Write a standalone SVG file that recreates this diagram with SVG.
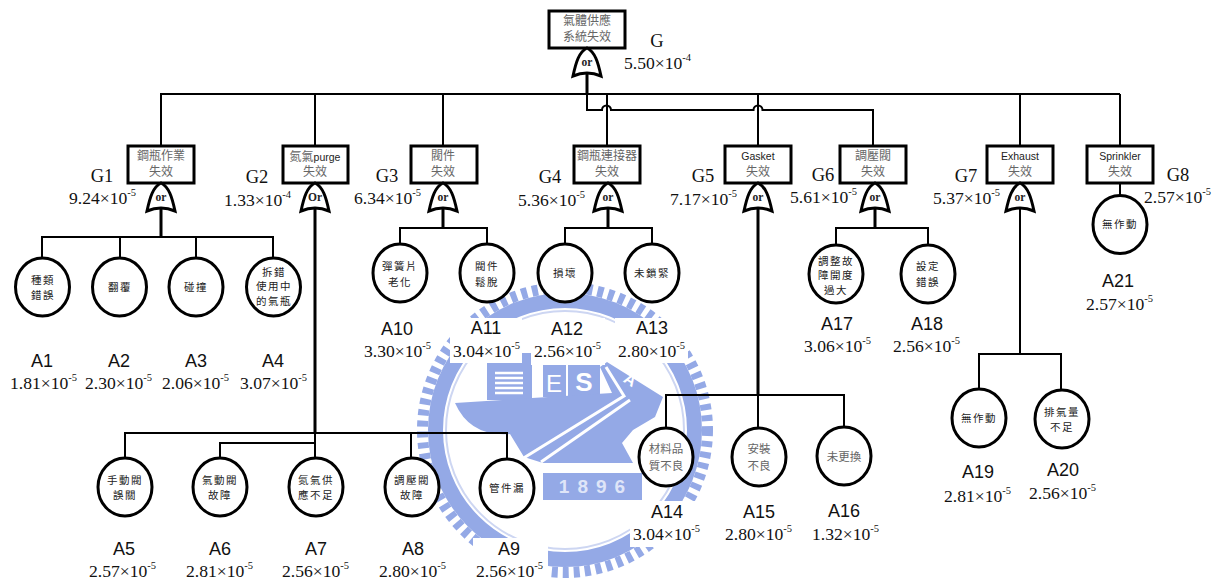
<svg xmlns="http://www.w3.org/2000/svg" width="1225" height="583" viewBox="0 0 1225 583">
<style>
text{white-space:pre}
.l{font:18px "Liberation Sans",Arial,sans-serif;fill:#111;text-anchor:middle}
.g{font:18.5px "Liberation Serif","Times New Roman",serif;fill:#111;text-anchor:middle}
.v{font:17.6px "Liberation Serif","Times New Roman",serif;fill:#111}
.s{font-size:10.5px}
.b{fill:#fff;stroke:#000;stroke-width:3}
.c{fill:#fff;stroke:#000;stroke-width:3}
.t{font:12px "Noto Sans CJK TC","Noto Sans CJK SC",sans-serif;fill:#666;text-anchor:middle}
.lat{font:10.5px "Liberation Sans",Arial,"Noto Sans CJK TC",sans-serif;fill:#222;text-anchor:middle}
.k{font:10.5px "Noto Sans CJK TC","Noto Sans CJK SC",sans-serif;fill:#222;text-anchor:middle;letter-spacing:1.5px}
.k2{font:11.5px "Noto Sans CJK TC","Noto Sans CJK SC",sans-serif;fill:#666;text-anchor:middle}
.o{font:bold 11.5px "Liberation Serif","Times New Roman",serif;fill:#222;text-anchor:middle}
.w{fill:none;stroke:#000;stroke-width:2}
.w3{fill:none;stroke:#000;stroke-width:3}
.m{fill:#94a9e6}
</style>
<defs>
<path id="gate" d="M0 0C8 4 11 14 14 28Q0 22 -14 28C-11 14 -8 4 0 0Z" fill="#fff" stroke="#000" stroke-width="3" stroke-linejoin="miter"/>
<ellipse id="leaf" rx="27" ry="29" class="c"/>
</defs>
<rect width="1225" height="583" fill="#fff"/>
<g id="watermark">
<circle cx="565" cy="430" r="142.500" fill="none" stroke="#94a9e6" stroke-width="11" stroke-dasharray="6 5"/>
<circle cx="565" cy="430" r="129.500" fill="none" stroke="#94a9e6" stroke-width="15"/>
<circle cx="565" cy="430" r="119" fill="none" stroke="#cdd6f2" stroke-width="2"/>
<path class="m" d="M487 353H532V400H487Z"/>
<path class="m" d="M543 363H566V397H543Z"/>
<path class="m" d="M568 363H600V397H568Z"/>
<path class="m" d="M455 403L612 393L600 367L607 362L663 397L655 417L633 430L622 443L633 463H543L524 457L510 434Q470 437 455 403Z"/>
<path d="M495 373H523M495 378H523M495 383H523M495 388H523M495 393H523" stroke="#fff" stroke-width="2.500" fill="none"/>
<path d="M538 368V398" stroke="#fff" stroke-width="2" stroke-dasharray="2 3" fill="none"/>
<path d="M606 367L624 396L522 459M630 400L541 462" stroke="#fff" stroke-width="3" fill="none"/>
<text x="554" y="392" font-family="Liberation Sans,sans-serif" font-size="24" fill="#fff" text-anchor="middle">E</text>
<text x="584" y="391" font-family="Liberation Sans,sans-serif" font-weight="bold" font-size="26" fill="#fff" text-anchor="middle">S</text>
<text x="630" y="385" transform="rotate(32 630 380)" font-family="Liberation Sans,sans-serif" font-weight="bold" font-size="16" fill="#fff" text-anchor="middle">A</text>
<rect class="m" x="543" y="473" width="99" height="27"/>
<text x="596" y="493" font-family="Liberation Sans,sans-serif" font-weight="bold" font-size="19" letter-spacing="8" fill="#dfe5f8" text-anchor="middle">1896</text>
<g fill="#fff">
<rect x="450" y="318" width="72" height="45"/>
<rect x="531" y="318" width="74" height="47"/>
<rect x="615" y="318" width="73" height="45"/>
<rect x="630" y="501" width="72" height="46"/>
<rect x="473" y="538" width="75" height="45"/>
</g>
</g>
<g id="connectors">
<path class="w" d="M160 94H1120M161 94V146M315 94V146M443 94V146M607 94V146M758 94V146M1020 94V146M1120 94V146"/>
<path class="w" d="M587 94V110H602a4.500 4.500 0 0 1 9 0H753.500a4.500 4.500 0 0 1 9 0H873V146"/>
<path class="w3" d="M587 74V94"/>
<path class="w3" d="M161 207V237M443 207V228M608 207V228M875 207V228"/>
<path class="w3" d="M315 207V433M758 207V395"/>
<path class="w" d="M1020 207V354"/>
<path class="w" d="M42 258V237H273V258M120 237V258M196 237V258"/>
<path class="w" d="M400 244V228H487V244M565 244V228H652V244M836 245V228H928V245"/>
<path class="w" d="M125 458V433H507V459M315 433V458M411 433V458M315 443H220V458"/>
<path class="w" d="M666 428V395H844V427M758 395V428"/>
<path class="w" d="M979 389V354H1061V390"/>
<path class="w" d="M1120 183V196"/>
</g>
<g id="G"><rect class="b" x="549" y="11" width="76" height="37"/><text class="t" x="587" y="25">氣體供應</text><text class="t" x="587" y="41">系統失效</text><use href="#gate" x="587" y="48"/><text class="o" x="587" y="66">or</text><text class="g" x="657" y="47">G</text><text class="v" x="624" y="69">5.50×10<tspan class="s" dy="-8">-4</tspan></text></g>
<g id="G1"><rect class="b" x="128" y="146" width="66" height="37"/><text class="t" x="161" y="160">鋼瓶作業</text><text class="t" x="161" y="176">失效</text><use href="#gate" x="161" y="183"/><text class="o" x="161" y="201">or</text><text class="g" x="102" y="182">G1</text><text class="v" x="69" y="204">9.24×10<tspan class="s" dy="-8">-5</tspan></text></g>
<g id="G2"><rect class="b" x="283" y="146" width="65" height="37"/><text class="lat" x="315" y="161"><tspan class="t">氮氣</tspan>purge</text><text class="t" x="315" y="176">失效</text><use href="#gate" x="315" y="183"/><text class="o" x="315" y="201">Or</text><text class="g" x="257" y="183">G2</text><text class="v" x="224" y="206">1.33×10<tspan class="s" dy="-8">-4</tspan></text></g>
<g id="G3"><rect class="b" x="411" y="146" width="66" height="37"/><text class="t" x="443" y="160">閥件</text><text class="t" x="443" y="176">失效</text><use href="#gate" x="443" y="183"/><text class="o" x="443" y="201">or</text><text class="g" x="387" y="182">G3</text><text class="v" x="354" y="204">6.34×10<tspan class="s" dy="-8">-5</tspan></text></g>
<g id="G4"><rect class="b" x="574" y="146" width="66" height="37"/><text class="t" x="607" y="160">鋼瓶連接器</text><text class="t" x="607" y="176">失效</text><use href="#gate" x="608" y="183"/><text class="o" x="608" y="201">or</text><text class="g" x="550" y="183">G4</text><text class="v" x="518" y="206">5.36×10<tspan class="s" dy="-8">-5</tspan></text></g>
<g id="G5"><rect class="b" x="725" y="146" width="66" height="37"/><text class="lat" x="758" y="160">Gasket</text><text class="t" x="758" y="176">失效</text><use href="#gate" x="758" y="183"/><text class="o" x="758" y="201">or</text><text class="g" x="703" y="182">G5</text><text class="v" x="670" y="205">7.17×10<tspan class="s" dy="-8">-5</tspan></text></g>
<g id="G6"><rect class="b" x="840" y="146" width="66" height="37"/><text class="t" x="873" y="160">調壓閥</text><text class="t" x="873" y="176">失效</text><use href="#gate" x="875" y="183"/><text class="o" x="875" y="201">or</text><text class="g" x="823" y="181">G6</text><text class="v" x="790" y="203">5.61×10<tspan class="s" dy="-8">-5</tspan></text></g>
<g id="G7"><rect class="b" x="987" y="146" width="66" height="37"/><text class="lat" x="1020" y="160">Exhaust</text><text class="t" x="1020" y="176">失效</text><use href="#gate" x="1020" y="183"/><text class="o" x="1020" y="201">or</text><text class="g" x="966" y="182">G7</text><text class="v" x="933" y="204">5.37×10<tspan class="s" dy="-8">-5</tspan></text></g>
<g id="G8"><rect class="b" x="1087" y="146" width="66" height="37"/><text class="lat" x="1120" y="160">Sprinkler</text><text class="t" x="1120" y="176">失效</text><text class="g" x="1178" y="181">G8</text><text class="v" x="1144" y="203">2.57×10<tspan class="s" dy="-8">-5</tspan></text></g>
<g id="A1"><use href="#leaf" x="42.500" y="287"/><text class="k" x="43" y="284">種類</text><text class="k" x="43" y="299">錯誤</text><text class="l" x="42" y="367">A1</text><text class="v" x="10" y="389">1.81×10<tspan class="s" dy="-8">-5</tspan></text></g>
<g id="A2"><use href="#leaf" x="119.500" y="287"/><text class="k" x="120" y="291">翻覆</text><text class="l" x="119" y="367">A2</text><text class="v" x="85" y="389">2.30×10<tspan class="s" dy="-8">-5</tspan></text></g>
<g id="A3"><use href="#leaf" x="196" y="287"/><text class="k" x="196" y="291">碰撞</text><text class="l" x="196" y="367">A3</text><text class="v" x="162" y="389">2.06×10<tspan class="s" dy="-8">-5</tspan></text></g>
<g id="A4"><use href="#leaf" x="273.500" y="287"/><text class="k" x="274" y="276">拆錯</text><text class="k" x="274" y="290">使用中</text><text class="k" x="274" y="305">的氣瓶</text><text class="l" x="273" y="367">A4</text><text class="v" x="240" y="389">3.07×10<tspan class="s" dy="-8">-5</tspan></text></g>
<g id="A5"><use href="#leaf" x="125" y="487"/><text class="k" x="125" y="484">手動閥</text><text class="k" x="125" y="499">誤關</text><text class="l" x="124" y="555">A5</text><text class="v" x="89" y="577">2.57×10<tspan class="s" dy="-8">-5</tspan></text></g>
<g id="A6"><use href="#leaf" x="220" y="487"/><text class="k" x="220" y="484">氣動閥</text><text class="k" x="220" y="499">故障</text><text class="l" x="220" y="555">A6</text><text class="v" x="186" y="577">2.81×10<tspan class="s" dy="-8">-5</tspan></text></g>
<g id="A7"><use href="#leaf" x="316" y="487"/><text class="k" x="316" y="484">氮氣供</text><text class="k" x="316" y="499">應不足</text><text class="l" x="316" y="555">A7</text><text class="v" x="282" y="577">2.56×10<tspan class="s" dy="-8">-5</tspan></text></g>
<g id="A8"><use href="#leaf" x="412" y="487"/><text class="k" x="412" y="484">調壓閥</text><text class="k" x="412" y="499">故障</text><text class="l" x="413" y="555">A8</text><text class="v" x="379" y="577">2.80×10<tspan class="s" dy="-8">-5</tspan></text></g>
<g id="A9"><use href="#leaf" x="507" y="488"/><text class="k" x="507" y="492">管件漏</text><text class="l" x="509" y="555">A9</text><text class="v" x="476" y="577">2.56×10<tspan class="s" dy="-8">-5</tspan></text></g>
<g id="A10"><use href="#leaf" x="400" y="273"/><text class="k" x="400" y="270">彈簧片</text><text class="k" x="400" y="286">老化</text><text class="l" x="397" y="335">A10</text><text class="v" x="364" y="357">3.30×10<tspan class="s" dy="-8">-5</tspan></text></g>
<g id="A11"><use href="#leaf" x="487" y="273"/><text class="k" x="487" y="270">閥件</text><text class="k" x="487" y="286">鬆脫</text><text class="l" x="486" y="334">A11</text><text class="v" x="453" y="357">3.04×10<tspan class="s" dy="-8">-5</tspan></text></g>
<g id="A12"><use href="#leaf" x="565" y="273"/><text class="k" x="565" y="277">損壞</text><text class="l" x="567" y="335">A12</text><text class="v" x="534" y="357">2.56×10<tspan class="s" dy="-8">-5</tspan></text></g>
<g id="A13"><use href="#leaf" x="652" y="273"/><text class="k" x="652" y="277">未鎖緊</text><text class="l" x="652" y="334">A13</text><text class="v" x="618" y="357">2.80×10<tspan class="s" dy="-8">-5</tspan></text></g>
<g id="A14"><use href="#leaf" x="666" y="457"/><text class="k2" x="666" y="453">材料品</text><text class="k2" x="666" y="470">質不良</text><text class="l" x="667" y="518">A14</text><text class="v" x="633" y="540">3.04×10<tspan class="s" dy="-8">-5</tspan></text></g>
<g id="A15"><use href="#leaf" x="759" y="457"/><text class="k2" x="759" y="453">安裝</text><text class="k2" x="759" y="470">不良</text><text class="l" x="759" y="518">A15</text><text class="v" x="725" y="540">2.80×10<tspan class="s" dy="-8">-5</tspan></text></g>
<g id="A16"><use href="#leaf" x="844" y="456"/><text class="k2" x="844" y="461">未更換</text><text class="l" x="844" y="517">A16</text><text class="v" x="812" y="540">1.32×10<tspan class="s" dy="-8">-5</tspan></text></g>
<g id="A17"><use href="#leaf" x="836" y="274"/><text class="k" x="836" y="265">調整故</text><text class="k" x="836" y="279">障開度</text><text class="k" x="836" y="294">過大</text><text class="l" x="837" y="330">A17</text><text class="v" x="804" y="352">3.06×10<tspan class="s" dy="-8">-5</tspan></text></g>
<g id="A18"><use href="#leaf" x="928" y="274"/><text class="k" x="928" y="270">設定</text><text class="k" x="928" y="286">錯誤</text><text class="l" x="927" y="330">A18</text><text class="v" x="893" y="352">2.56×10<tspan class="s" dy="-8">-5</tspan></text></g>
<g id="A19"><use href="#leaf" x="979" y="418"/><text class="k" x="979" y="422">無作動</text><text class="l" x="978" y="478">A19</text><text class="v" x="944" y="502">2.81×10<tspan class="s" dy="-8">-5</tspan></text></g>
<g id="A20"><use href="#leaf" x="1062" y="419"/><text class="k" x="1062" y="416">排氣量</text><text class="k" x="1062" y="431">不足</text><text class="l" x="1063" y="476">A20</text><text class="v" x="1029" y="499">2.56×10<tspan class="s" dy="-8">-5</tspan></text></g>
<g id="A21"><use href="#leaf" x="1120" y="224.500"/><text class="k" x="1120" y="228">無作動</text><text class="l" x="1118" y="287">A21</text><text class="v" x="1086" y="310">2.57×10<tspan class="s" dy="-8">-5</tspan></text></g>
</svg>
